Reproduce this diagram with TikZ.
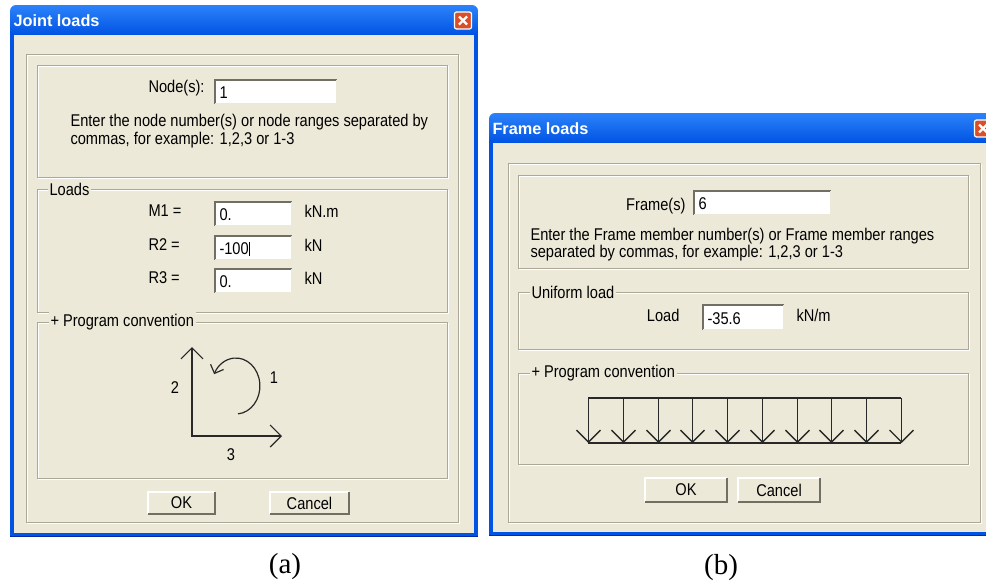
\documentclass[tikz,border=0pt]{standalone}
\usepackage{fontspec}
\setmainfont{Liberation Sans}
\newfontfamily\dlgfont{Liberation Sans}[FakeStretch=0.86]
\newfontfamily\capfont{Liberation Serif}
\usetikzlibrary{arrows.meta}
\definecolor{xpblue}{RGB}{0, 84, 227}
\definecolor{xplight}{RGB}{45, 130, 250}
\definecolor{xpdark}{RGB}{0, 40, 170}
\definecolor{xpface}{RGB}{236, 233, 216}
\definecolor{xpetch}{RGB}{172, 168, 153}
\definecolor{xpshadow}{RGB}{113, 111, 100}
\definecolor{xpred}{RGB}{218, 78, 40}
\definecolor{xpink}{RGB}{40, 40, 40}

% etched frame
\newcommand{\myEtch}[4]{
	\draw[white] (#1+1, #2+1) rectangle (#3+1, #4+1);
	\draw[xpetch] (#1, #2) rectangle (#3, #4);
}
% push button
\newcommand{\myButton}[6]{
	\fill[xpface] (#2, #3) rectangle (#4, #5);
	\draw[white, line width=1.5pt] (#2, #5) -- (#2, #3) -- (#4, #3);
	\draw[xpshadow, line width=1.5pt] (#2, #5) -- (#4, #5) -- (#4, #3);
	\node[dlgtext, anchor=center] (#1) at ({(#2+#4)/2}, {(#3+#5)/2}) {#6};
}
% edit field
\newcommand{\myEdit}[6]{
	\fill[white] (#2, #3) rectangle (#4, #5);
	\draw[xpshadow, line width=1.5pt] (#2, #5) -- (#2, #3) -- (#4, #3);
	\draw[xpface, line width=1.5pt] (#2, #5) -- (#4, #5) -- (#4, #3);
	\node[dlgtext] (#1) at (#2+4, {(#3+#5)/2+1}) {#6};
}
% window with title bar
\newcommand{\myWindow}[6]{
	\fill[xpblue] (#2, #3+8) rectangle (#4, #5);
	\shade[top color=xplight, bottom color=xpblue, rounded corners=6pt] (#2, #3) rectangle (#4, #3+29.5);
	\draw[xpdark, line width=1.5pt] (#2, #5-0.75) -- (#4, #5-0.75);
	\fill[xpface] (#2+4, #3+29.5) rectangle (#4-4, #5-4);
	\node[titletext] (#1) at (#2+3, #3+16) {#6};
	\node[closebtn] (#1Close) at (#4-15, #3+15.5) {};
	\draw[white, line width=2.2pt] ([shift={(-4,-4)}]#1Close.center) -- ([shift={(4,4)}]#1Close.center);
	\draw[white, line width=2.2pt] ([shift={(-4,4)}]#1Close.center) -- ([shift={(4,-4)}]#1Close.center);
}

\begin{document}
\begin{tikzpicture}[x=1pt, y=-1pt, line width=1pt,
	dlgtext/.style={font=\dlgfont\fontsize{17}{20}\selectfont, inner sep=0pt, anchor=west, text=black},
	grouptext/.style={dlgtext, fill=xpface, inner xsep=2pt, inner ysep=2pt},
	titletext/.style={font=\fontsize{16.3}{19}\selectfont\bfseries, text=white, inner sep=0pt, anchor=west},
	captext/.style={font=\capfont\fontsize{29}{33}\selectfont, inner sep=0pt},
	closebtn/.style={fill=xpred, draw=white, line width=1.2pt, rounded corners=2pt, minimum size=17pt, inner sep=0pt},
	axes/.style={{Straight Barb[length=11pt, width=22pt]}-{Straight Barb[length=11pt, width=22pt]}, xpink, line width=1.2pt},
	moment/.style={-{Straight Barb[length=7pt, width=14pt]}, xpink, line width=1.2pt},
	loadarrow/.style={-{Straight Barb[length=12pt, width=24pt]}, xpink, line width=1.3pt}
]
	\fill[white] (0, 0) rectangle (986, 582);
	\useasboundingbox (0, 0) rectangle (986, 582);

	% joint loads window
	\myWindow{jointWin}{10}{5}{478}{537}{Joint loads}
	\myEtch{26}{54}{458}{522}
	\myEtch{37}{65}{447}{177}
	\node[dlgtext] (nodeLbl) at (148, 88) {Node(s):};
	\myEdit{nodeEdit}{215}{80}{337}{104}{1}
	\node[dlgtext] (nodeHelpA) at (70, 122) {Enter the node number(s) or node ranges separated by};
	\node[dlgtext] (nodeHelpB) at (70, 140) {commas, for example: 1,2,3 or 1-3};

	\myEtch{37}{189}{447}{312}
	\node[grouptext] (loadsLbl) at (47, 189) {Loads};
	\foreach \n/\y/\v/\u in {M1/211/0./kN.m, R2/245/{-100\rule[-2pt]{0.8pt}{14pt}}/kN, R3/278/0./kN}{
		\node[dlgtext] (\n Lbl) at (148, \y) {\n\ =};
		\myEdit{\n Edit}{215}{\y-9}{292}{\y+15}{\v}
		\node[dlgtext] (\n Unit) at (304, \y) {\u};
	}

	\myEtch{37}{322}{447}{478}
	\node[grouptext] (convLblA) at (48, 322) {+ Program convention};
	\coordinate (axTop) at (192, 347);
	\coordinate (axCorner) at (192, 436);
	\coordinate (axRight) at (282, 436);
	\draw[axes] (axTop) -- (axCorner) -- (axRight);
	\draw[moment] (238, 413.9) arc[start angle=85, end angle=-155, x radius=24, y radius=28];
	\node[dlgtext, anchor=center] (dirTwo) at (175, 388) {2};
	\node[dlgtext, anchor=center] (dirOne) at (274, 378) {1};
	\node[dlgtext, anchor=center] (dirThree) at (231, 455) {3};

	\myButton{okA}{148}{492}{215}{514}{OK}
	\myButton{cancelA}{270}{492}{349}{514}{Cancel}
	\node[captext] (capA) at (285, 567) {(a)};

	% frame loads window
	\myWindow{frameWin}{489}{113}{998}{536}{Frame loads}
	\myEtch{508}{163}{980}{522}
	\myEtch{518}{175}{968}{268}
	\node[dlgtext, anchor=east] (frameLbl) at (686, 206) {Frame(s)};
	\myEdit{frameEdit}{694}{191}{831}{215}{6}
	\node[dlgtext] (frameHelpA) at (530, 236) {Enter the Frame member number(s) or Frame member ranges};
	\node[dlgtext] (frameHelpB) at (530, 253) {separated by commas, for example: 1,2,3 or 1-3};

	\myEtch{518}{292}{968}{349}
	\node[grouptext] (uniformLbl) at (529, 292) {Uniform load};
	\node[dlgtext, anchor=east] (loadLbl) at (680, 315) {Load};
	\myEdit{loadEdit}{703}{305}{784}{330}{-35.6}
	\node[dlgtext] (loadUnit) at (796, 315) {kN/m};

	\myEtch{518}{373}{968}{464}
	\node[grouptext] (convLblB) at (529, 373) {+ Program convention};
	\draw[xpink, line width=1.3pt] (588, 398) -- (901, 398);
	\draw[xpink, line width=1.3pt] (588, 443) -- (901, 443);
	\foreach \i in {0,...,9}{
		\draw[loadarrow] ({round(588+\i*34.78)+0.5}, 398) -- ({round(588+\i*34.78)+0.5}, 443);
	}

	\myButton{okB}{645}{478}{727}{502}{OK}
	\myButton{cancelB}{738}{478}{820}{502}{Cancel}
	\node[captext] (capB) at (721, 568) {(b)};
\end{tikzpicture}
\end{document}
